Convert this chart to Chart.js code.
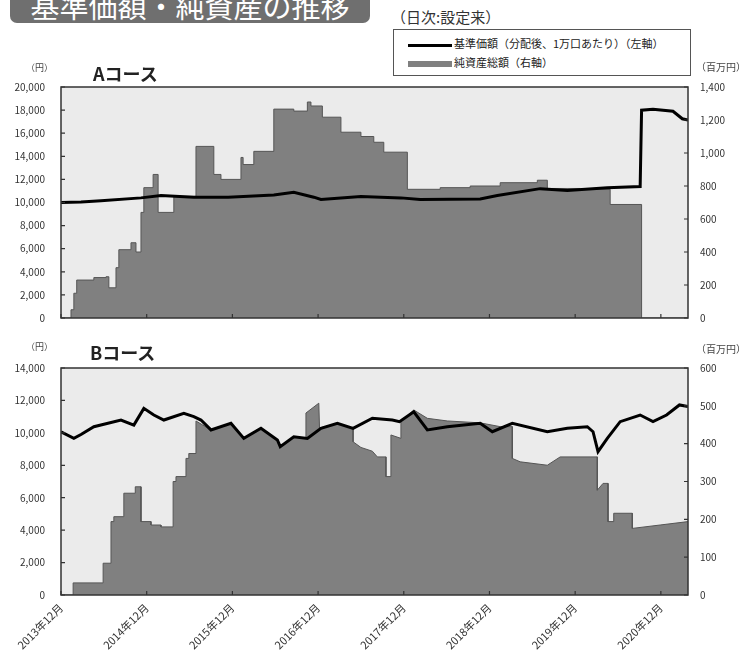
<!DOCTYPE html>
<html lang="ja">
<head>
<meta charset="utf-8">
<script src="https://cdn.jsdelivr.net/npm/chart.js@4.4.1/dist/chart.umd.min.js"></script>
<style>
  body { margin: 0; width: 746px; height: 660px; background: #fff; position: relative; overflow: hidden;
         font-family: "Noto Sans CJK JP", sans-serif; color: #222; }
  .abs { position: absolute; white-space: nowrap; }
  #title { left: 10px; top: -12px; width: 360px; height: 35px; background: #6f6f6f; border-radius: 7px;
           color: #fff; font-size: 29px; line-height: 35px; text-align: center; }
  #period { left: 391px; top: 6px; font-size: 15px; color: #333; }
  #legend { left: 393px; top: 29px; width: 296px; height: 45px; border: 1px solid #555; background: #fff; }
  .item { position: absolute; left: 14px; font-size: 11px; line-height: 14px; color: #222; }
  .item span { display: inline-block; width: 44px; vertical-align: middle; margin-right: 2px; }
  .unit { font-size: 9px; color: #444; }
  .unitR { font-size: 10px; color: #444; }
  .course { font-size: 18px; font-weight: bold; color: #222; }
  .wrap { position: absolute; left: 0; width: 746px; }
</style>
</head>
<body>
<div class="wrap" style="top:60px;height:280px"><canvas id="chartA"></canvas></div>
<div class="wrap" style="top:340px;height:320px"><canvas id="chartB"></canvas></div>

<div class="abs" id="title">基準価額・純資産の推移</div>
<div class="abs" id="period">（日次:設定来）</div>
<div class="abs" id="legend">
  <div class="item" style="top:6px"><span style="height:3px;background:#000"></span>基準価額（分配後、1万口あたり）（左軸）</div>
  <div class="item" style="top:25px"><span style="height:6px;background:#808080"></span>純資産総額（右軸）</div>
</div>
<div class="abs unit" style="left:26px;top:61px">（円）</div>
<div class="abs unitR" style="left:696px;top:59px">（百万円）</div>
<div class="abs course" style="left:93px;top:60px">Aコース</div>
<div class="abs unit" style="left:26px;top:340px">（円）</div>
<div class="abs unitR" style="left:696px;top:341px">（百万円）</div>
<div class="abs course" style="left:90px;top:339px">Bコース</div>

<script>
// x values are months since 2013年12月
const xTickValues = [0, 12, 24, 36, 48, 60, 72, 84];
const xTickLabels = ["2013年12月", "2014年12月", "2015年12月", "2016年12月",
                     "2017年12月", "2018年12月", "2019年12月", "2020年12月"];
const xMax = 87.8;

// A course
const aNavMonths = [0, 2.8, 5.6, 11.2, 14.0, 18.6, 23.4, 29.8, 32.6, 35.4, 36.4, 42.0, 47.6, 50.3,
                    58.7, 61.1, 67.1, 70.9, 76.5, 81.1, 81.3, 82.9, 85.7, 87.0, 87.8];
const aNavValues = [10000, 10050, 10150, 10400, 10600, 10460, 10450, 10650, 10890, 10460, 10260, 10520, 10400, 10260,
                    10300, 10600, 11200, 11030, 11270, 11380, 17990, 18080, 17900, 17250, 17130];
const aAssetMonths = [0, 1.4, 1.8, 2.2, 4.6, 6.3, 6.7, 7.7, 8.1, 9.8, 10.5, 11.2, 11.6, 12.9, 13.6, 15.8,
                      18.9, 21.4, 22.4, 25.2, 25.5, 27.0, 29.8, 32.6, 34.5, 35.0, 36.6, 39.2, 42.0, 43.8,
                      45.2, 48.5, 53.1, 57.3, 61.5, 66.7, 68.1, 72.7, 76.9, 81.3, 87.8];
const aAssetValues = [0, 50, 150, 230, 245, 250, 183, 305, 414, 456, 400, 640, 790, 870, 640, 737,
                      1040, 870, 840, 973, 930, 1010, 1266, 1254, 1309, 1285, 1217, 1126, 1100, 1065,
                      1005, 780, 790, 800, 820, 835, 785, 780, 688, 0, 0];

// B course
const bNavMonths = [0, 1.8, 2.8, 4.6, 8.4, 10.2, 11.6, 13.0, 14.4, 17.2, 18.6, 19.6, 21.0, 23.8, 25.6,
                    28.0, 30.3, 30.7, 32.6, 34.5, 36.4, 38.7, 40.9, 43.6, 46.4, 47.4, 49.4, 51.3, 54.1,
                    58.7, 60.4, 63.2, 68.1, 70.9, 73.7, 74.5, 75.2, 76.5, 78.3, 81.1, 82.9, 84.8, 86.6, 87.8];
const bNavValues = [10070, 9660, 9900, 10380, 10790, 10480, 11510, 11100, 10790, 11200, 11000, 10790, 10180, 10590, 9660,
                    10280, 9560, 9150, 9760, 9660, 10280, 10590, 10280, 10900, 10790, 10690, 11300, 10180, 10380,
                    10590, 10070, 10590, 10070, 10280, 10380, 10070, 8840, 9660, 10690, 11100, 10690, 11100, 11720, 11620];
const bAssetMonths = [0, 1.7, 1.7, 5.9, 5.9, 7.0, 7.0, 7.4, 7.4, 8.8, 8.8, 10.4, 10.4, 11.2, 11.2, 12.6, 12.6,
                      14.0, 14.0, 15.7, 15.7, 16.1, 16.1, 17.5, 17.5, 17.9, 17.9, 18.9, 18.9, 21.0, 23.8, 25.6,
                      28.0, 30.3, 30.7, 32.6, 34.3, 34.3, 36.1, 36.2, 38.7, 40.9, 40.9, 42.0, 43.6, 44.3, 45.5,
                      45.5, 46.2, 46.2, 47.6, 47.6, 49.4, 51.3, 54.1, 58.7, 61.5, 63.2, 63.2, 64.3, 68.1, 69.9,
                      75.1, 75.1, 75.9, 76.6, 76.6, 77.4, 77.4, 80.0, 80.0, 83.9, 87.8];
const bAssetValues = [0, 0, 32, 32, 84, 84, 194, 194, 207, 207, 269, 269, 286, 286, 194, 194, 185,
                      185, 180, 180, 300, 300, 313, 313, 361, 361, 374, 374, 460, 436, 454, 414,
                      440, 410, 392, 418, 414, 481, 507, 441, 454, 440, 405, 390, 380, 365, 365,
                      313, 313, 423, 414, 458, 489, 467, 460, 455, 445, 445, 361, 352, 343, 365,
                      365, 277, 295, 295, 194, 194, 216, 216, 176, 185, 194];

function toXY(xs, ys) {
    return xs.map((x, i) => ({ x: x, y: ys[i] }));
}

const fmt = v => Number(v).toLocaleString("en-US");
const tickFont = { family: "Noto Sans CJK JP", size: 10 };

const framePlugin = {
    id: "frame",
    beforeDraw(chart) {
        const { ctx, chartArea: a } = chart;
        ctx.save();
        ctx.fillStyle = "#ebebeb";
        ctx.fillRect(a.left, a.top, a.right - a.left, a.bottom - a.top);
        ctx.restore();
    },
    afterDraw(chart) {
        const { ctx, chartArea: a, scales } = chart;
        ctx.save();
        ctx.strokeStyle = "#333";
        ctx.lineWidth = 1.2;
        ctx.beginPath();
        xTickValues.forEach(v => {
            const px = scales.x.getPixelForValue(v);
            ctx.moveTo(px, a.bottom);
            ctx.lineTo(px, a.bottom - 4);
        });
        scales.yL.ticks.forEach(t => {
            const py = scales.yL.getPixelForValue(t.value);
            ctx.moveTo(a.left, py);
            ctx.lineTo(a.left + 4, py);
        });
        scales.yR.ticks.forEach(t => {
            const py = scales.yR.getPixelForValue(t.value);
            ctx.moveTo(a.right, py);
            ctx.lineTo(a.right - 4, py);
        });
        ctx.stroke();
        ctx.lineWidth = 1.5;
        ctx.strokeRect(a.left, a.top, a.right - a.left, a.bottom - a.top);
        ctx.restore();
    }
};

function makeChart(id, nav, assets, assetStepped, leftMax, leftStep, rightMax, rightStep, pad, showX) {
    return new Chart(document.getElementById(id), {
        type: "line",
        data: {
            datasets: [{
                label: "基準価額",
                data: nav,
                yAxisID: "yL",
                borderColor: "#000",
                borderWidth: 3,
                pointRadius: 0,
                order: 0
            }, {
                label: "純資産総額",
                data: assets,
                yAxisID: "yR",
                stepped: assetStepped ? "before" : false,
                fill: "origin",
                backgroundColor: "#808080",
                borderColor: "#555",
                borderWidth: 1,
                pointRadius: 0,
                order: 1
            }]
        },
        options: {
            responsive: true,
            maintainAspectRatio: false,
            animation: false,
            layout: { padding: pad },
            plugins: { legend: { display: false }, tooltip: { enabled: false } },
            scales: {
                x: {
                    type: "linear",
                    min: 0,
                    max: xMax,
                    display: showX,
                    afterBuildTicks: s => { s.ticks = xTickValues.map(v => ({ value: v })); },
                    afterFit: s => { s.height = showX ? 65 : 0; },
                    grid: { display: false, drawTicks: false },
                    border: { display: false },
                    ticks: {
                        autoSkip: false,
                        minRotation: 45,
                        maxRotation: 45,
                        padding: 6,
                        color: "#333",
                        font: { family: "Noto Sans CJK JP", size: 11 },
                        callback: v => xTickLabels[xTickValues.indexOf(v)]
                    }
                },
                yL: {
                    position: "left",
                    min: 0,
                    max: leftMax,
                    afterFit: s => { s.width = 61; },
                    grid: { display: false, drawTicks: false },
                    border: { display: false },
                    ticks: { stepSize: leftStep, padding: 16, color: "#333", font: tickFont, callback: fmt }
                },
                yR: {
                    position: "right",
                    min: 0,
                    max: rightMax,
                    afterFit: s => { s.width = 58; },
                    grid: { display: false, drawTicks: false },
                    border: { display: false },
                    ticks: { stepSize: rightStep, padding: 12, color: "#333", font: tickFont, callback: fmt }
                }
            }
        },
        plugins: [framePlugin]
    });
}

makeChart("chartA", toXY(aNavMonths, aNavValues), toXY(aAssetMonths, aAssetValues), true,
          20000, 2000, 1400, 200, { top: 27, bottom: 12, left: 0, right: 0 }, false);
makeChart("chartB", toXY(bNavMonths, bNavValues), toXY(bAssetMonths, bAssetValues), false,
          14000, 2000, 600, 100, { top: 28, bottom: 0, left: 0, right: 0 }, true);
</script>
</body>
</html>
